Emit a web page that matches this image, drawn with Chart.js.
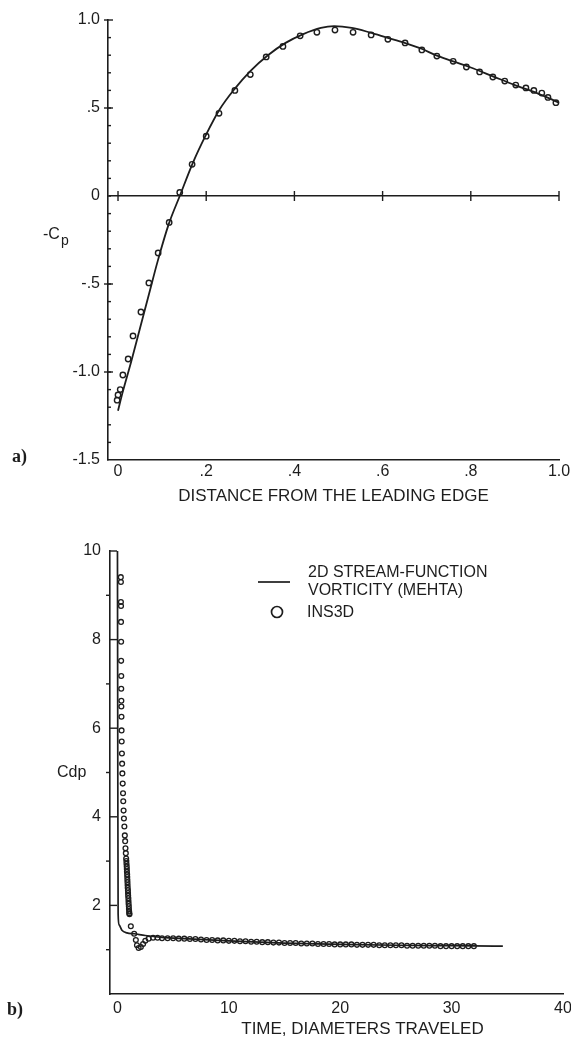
<!DOCTYPE html>
<html>
<head>
<meta charset="utf-8">
<script src="https://cdn.jsdelivr.net/npm/chart.js@4/dist/chart.umd.min.js"></script>
<style>
  html, body { margin: 0; padding: 0; background: #fff; }
  canvas { position: absolute; left: 0; }
  #cpChart { top: 0; }
  #cdpChart { top: 510px; }
</style>
</head>
<body>
<canvas id="cpChart" width="571" height="510"></canvas>
<canvas id="cdpChart" width="571" height="528"></canvas>
<script>
// a) pressure coefficient along the surface
const cpLineX = [0, 0.01, 0.03, 0.05, 0.07, 0.09, 0.115, 0.14, 0.17, 0.2, 0.23, 0.265, 0.3, 0.34, 0.38, 0.42, 0.46, 0.49, 0.53, 0.57, 0.61, 0.65, 0.69, 0.72, 0.76, 0.8, 0.85, 0.9, 0.95, 1.0]
const cpLineY = [-1.22, -1.12, -0.94, -0.75, -0.56, -0.37, -0.16, 0.0, 0.19, 0.35, 0.49, 0.61, 0.71, 0.8, 0.87, 0.92, 0.955, 0.965, 0.955, 0.93, 0.9, 0.87, 0.835, 0.8, 0.765, 0.73, 0.68, 0.63, 0.585, 0.53]
const cpPtsX = [-0.002, 0.0, 0.005, 0.011, 0.023, 0.034, 0.052, 0.07, 0.091, 0.116, 0.14, 0.168, 0.2, 0.229, 0.265, 0.3, 0.336, 0.374, 0.413, 0.451, 0.492, 0.533, 0.574, 0.612, 0.651, 0.689, 0.723, 0.76, 0.79, 0.82, 0.85, 0.877, 0.902, 0.925, 0.943, 0.961, 0.975, 0.993]
const cpPtsY = [-1.16, -1.13, -1.1, -1.017, -0.926, -0.795, -0.659, -0.494, -0.324, -0.15, 0.02, 0.18, 0.34, 0.47, 0.6, 0.69, 0.79, 0.85, 0.91, 0.93, 0.943, 0.93, 0.915, 0.89, 0.87, 0.83, 0.795, 0.765, 0.733, 0.705, 0.676, 0.653, 0.63, 0.614, 0.6, 0.585, 0.56, 0.53]
const cpXTicks = [0, 0.2, 0.4, 0.6, 0.8, 1.0]
const cpXLabels = ['0', '.2', '.4', '.6', '.8', '1.0']
const cpYTicks = [-1.5, -1.0, -0.5, 0, 0.5, 1.0]
const cpYLabels = ['-1.5', '-1.0', '-.5', '0', '.5', '1.0']

// b) pressure drag history
const cdpLineX = [0, 0.03, 0.06, 0.15, 0.4, 0.85, 1.5, 2.5, 4, 6, 10, 15, 20, 25, 30, 34.6]
const cdpLineY = [10, 5, 1.8, 1.56, 1.44, 1.38, 1.36, 1.32, 1.28, 1.25, 1.2, 1.15, 1.12, 1.1, 1.09, 1.08]
const cdpPtsX = [
  0.30, 0.31, 0.31, 0.32, 0.32, 0.33, 0.33, 0.34, 0.34, 0.35, 0.35, 0.36, 0.37, 0.38, 0.40, 0.42, 0.44, 0.47, 0.50, 0.52,
  0.55, 0.58, 0.62, 0.66, 0.69, 0.72, 0.75, 0.78, 0.80, 0.81, 0.83, 0.84, 0.85, 0.87, 0.88, 0.89, 0.90, 0.91, 0.92, 0.94,
  0.95, 0.96, 0.98, 0.99, 1.00, 1.02, 1.03, 1.05, 1.06, 1.08,
  1.2, 1.5, 1.65, 1.75, 1.9, 2.1, 2.3, 2.5, 2.8, 3.2, 3.6, 4.0,
  4.5, 5, 5.5, 6, 6.5, 7, 7.5, 8, 8.5, 9, 9.5, 10, 10.5, 11, 11.5, 12, 12.5, 13, 13.5, 14,
  14.5, 15, 15.5, 16, 16.5, 17, 17.5, 18, 18.5, 19, 19.5, 20, 20.5, 21, 21.5, 22, 22.5, 23, 23.5, 24,
  24.5, 25, 25.5, 26, 26.5, 27, 27.5, 28, 28.5, 29, 29.5, 30, 30.5, 31, 31.5, 32
]
const cdpPtsY = [
  9.41, 9.30, 8.85, 8.76, 8.40, 7.95, 7.52, 7.18, 6.89, 6.62, 6.49, 6.26, 5.95, 5.70, 5.43, 5.20, 4.98, 4.75, 4.53, 4.35,
  4.14, 3.96, 3.78, 3.58, 3.45, 3.29, 3.18, 3.06, 3.00, 2.94, 2.88, 2.82, 2.76, 2.70, 2.64, 2.58, 2.52, 2.46, 2.40, 2.34,
  2.28, 2.22, 2.16, 2.10, 2.04, 1.98, 1.92, 1.86, 1.82, 1.80,
  1.53, 1.36, 1.22, 1.10, 1.04, 1.06, 1.13, 1.20, 1.25, 1.27, 1.27, 1.26,
  1.26, 1.26, 1.25, 1.25, 1.24, 1.24, 1.23, 1.22, 1.22, 1.21, 1.21, 1.20, 1.20, 1.19, 1.19, 1.18, 1.18, 1.17, 1.17, 1.16,
  1.16, 1.15, 1.15, 1.15, 1.14, 1.14, 1.14, 1.13, 1.13, 1.13, 1.12, 1.12, 1.12, 1.12, 1.11, 1.11, 1.11, 1.11, 1.10, 1.10,
  1.10, 1.10, 1.10, 1.09, 1.09, 1.09, 1.09, 1.09, 1.09, 1.08, 1.08, 1.08, 1.08, 1.08, 1.08, 1.08
]
const cdpXTicks = [0, 10, 20, 30, 40]
const cdpXLabels = ['0', '10', '20', '30', '40']
const cdpYTicks = [2, 4, 6, 8, 10]
const cdpYLabels = ['2', '4', '6', '8', '10']
const legendLines = ['2D STREAM-FUNCTION', 'VORTICITY (MEHTA)']
const legendPoints = 'INS3D'

const ink = '#1d1d1d'
const sans = "'Liberation Sans', Arial, sans-serif"

function pairs(xs, ys) {
  return xs.map((v, i) => ({ x: v, y: ys[i] }))
}

function range(a, b, step) {
  const out = []
  for (let v = a; v <= b + 1e-9; v += step) out.push(+v.toFixed(4))
  return out
}

// pin the axis box sizes so the plot area lands where the original has it
function sizeAxis(w, h) {
  return s => {
    if (w != null) s.width = w
    if (h != null) s.height = h
    s.paddingLeft = 0
    s.paddingRight = 0
    s.paddingTop = 0
    s.paddingBottom = 0
  }
}

function fixedTicks(values) {
  return s => {
    s.ticks = values.map(v => ({ value: v }))
  }
}

// tick marks, loose labels and the hand drawn legend
const decor = {
  id: 'decor',
  afterDraw(chart, args, o) {
    const { ctx, chartArea: area, scales } = chart
    const x = scales.x
    const y = scales.y
    ctx.save()
    ctx.strokeStyle = ink
    ctx.fillStyle = ink
    ctx.lineWidth = 1.4
    const marks = o.marks || []
    marks.forEach(m => {
      m.values.forEach(v => {
        ctx.beginPath()
        if (m.axis === 'x') {
          const px = x.getPixelForValue(v)
          const py = m.at == null ? area.bottom : y.getPixelForValue(m.at)
          ctx.moveTo(px, py - m.a)
          ctx.lineTo(px, py + m.b)
        } else {
          const py = y.getPixelForValue(v)
          ctx.moveTo(area.left - m.a, py)
          ctx.lineTo(area.left + m.b, py)
        }
        ctx.stroke()
      })
    })
    const glyphs = o.glyphs || []
    glyphs.forEach(g => {
      ctx.beginPath()
      ctx.lineWidth = 1.7
      if (g.kind === 'line') {
        ctx.moveTo(g.x1, g.y)
        ctx.lineTo(g.x2, g.y)
      } else {
        ctx.arc(g.x, g.y, g.r, 0, Math.PI * 2)
      }
      ctx.stroke()
    })
    const texts = o.texts || []
    texts.forEach(t => {
      ctx.font = t.font
      ctx.textAlign = 'left'
      ctx.textBaseline = 'middle'
      ctx.fillText(t.text, t.x, t.y)
      if (t.sub) {
        const w = ctx.measureText(t.text).width
        ctx.font = t.subFont
        ctx.fillText(t.sub, t.x + w + 1, t.y + t.subDy)
      }
    })
    ctx.restore()
  }
}

const tickFont = { family: sans, size: 16 }
const titleFont = { family: sans, size: 17, lineHeight: 1 }

new Chart(document.getElementById('cpChart'), {
  type: 'scatter',
  data: {
    datasets: [
      {
        label: 'computed',
        data: pairs(cpLineX, cpLineY),
        showLine: true,
        pointRadius: 0,
        borderColor: ink,
        borderWidth: 1.8,
        cubicInterpolationMode: 'monotone',
        clip: false,
      },
      {
        label: 'points',
        data: pairs(cpPtsX, cpPtsY),
        pointRadius: 2.7,
        pointBorderWidth: 1.4,
        borderColor: ink,
        pointBorderColor: ink,
        backgroundColor: 'rgba(255,255,255,0)',
        pointBackgroundColor: 'rgba(255,255,255,0)',
        clip: false,
      },
    ],
  },
  options: {
    responsive: false,
    animation: false,
    events: [],
    layout: { padding: { top: 20, right: 12, left: 0, bottom: 0 } },
    plugins: {
      legend: { display: false },
      tooltip: { enabled: false },
      decor: {
        marks: [
          { axis: 'y', values: range(-1.4, 0.9, 0.1), a: 0, b: 3 },
          { axis: 'y', values: [-1.0, -0.5, 0.5, 1.0], a: 4, b: 5 },
          { axis: 'x', values: range(0, 1, 0.1), a: 3.5, b: 0 },
          { axis: 'x', values: cpXTicks, a: 5, b: 0 },
          { axis: 'x', values: cpXTicks, at: 0, a: 5, b: 5 },
        ],
        texts: [
          { text: '-C', x: 43, y: 235, font: '16px ' + sans, sub: 'p', subFont: '14px ' + sans, subDy: 6 },
          { text: 'a)', x: 12, y: 457, font: 'bold 18px "Liberation Serif", serif' },
        ],
      },
    },
    scales: {
      x: {
        type: 'linear',
        min: -0.0227,
        max: 1.0,
        afterBuildTicks: fixedTicks(cpXTicks),
        afterFit: sizeAxis(null, 50),
        grid: { display: false, drawTicks: false },
        border: { display: true, color: ink, width: 1.6 },
        ticks: { autoSkip: false, maxRotation: 0, padding: 2, color: ink, font: tickFont, callback: (v, i) => cpXLabels[i] },
        title: { display: true, text: 'DISTANCE FROM THE LEADING EDGE', color: ink, font: titleFont, padding: { top: 0, bottom: 5 } },
      },
      y: {
        type: 'linear',
        min: -1.5,
        max: 1.0,
        afterBuildTicks: fixedTicks(cpYTicks),
        afterFit: sizeAxis(108, null),
        grid: {
          drawTicks: false,
          lineWidth: 1.6,
          color: c => (c.tick && c.tick.value === 0 ? ink : 'rgba(0,0,0,0)'),
        },
        border: { display: true, color: ink, width: 1.6 },
        ticks: { autoSkip: false, padding: 8, color: ink, font: tickFont, callback: (v, i) => cpYLabels[i] },
      },
    },
  },
  plugins: [decor],
})

new Chart(document.getElementById('cdpChart'), {
  type: 'scatter',
  data: {
    datasets: [
      {
        label: legendLines.join(' '),
        data: pairs(cdpLineX, cdpLineY),
        showLine: true,
        pointRadius: 0,
        borderColor: ink,
        borderWidth: 1.7,
        cubicInterpolationMode: 'monotone',
        clip: false,
      },
      {
        label: legendPoints,
        data: pairs(cdpPtsX, cdpPtsY),
        pointRadius: 2.4,
        pointBorderWidth: 1.3,
        borderColor: ink,
        pointBorderColor: ink,
        backgroundColor: 'rgba(255,255,255,0)',
        pointBackgroundColor: 'rgba(255,255,255,0)',
        clip: false,
      },
    ],
  },
  options: {
    responsive: false,
    animation: false,
    events: [],
    layout: { padding: { top: 41, right: 8, left: 0, bottom: 0 } },
    plugins: {
      legend: { display: false },
      tooltip: { enabled: false },
      decor: {
        marks: [
          { axis: 'y', values: cdpYTicks, a: 1, b: 7 },
          { axis: 'y', values: [1, 3, 5, 7, 9], a: 4, b: 0 },
          { axis: 'x', values: range(0, 40, 2), a: 3, b: 0 },
          { axis: 'x', values: [10, 20, 30, 40], a: 6, b: 0 },
        ],
        glyphs: [
          { kind: 'line', x1: 258, x2: 290, y: 72 },
          { kind: 'circle', x: 277, y: 102, r: 5.5 },
        ],
        texts: [
          { text: legendLines[0], x: 308, y: 63, font: '16px ' + sans },
          { text: legendLines[1], x: 308, y: 81, font: '16px ' + sans },
          { text: legendPoints, x: 307, y: 103, font: '16px ' + sans },
          { text: 'Cdp', x: 57, y: 263, font: '16px ' + sans },
          { text: 'b)', x: 7, y: 500, font: 'bold 18px "Liberation Serif", serif' },
        ],
      },
    },
    scales: {
      x: {
        type: 'linear',
        min: -0.67,
        max: 40,
        afterBuildTicks: fixedTicks(cdpXTicks),
        afterFit: sizeAxis(null, 44),
        grid: { display: false, drawTicks: false },
        border: { display: true, color: ink, width: 1.6 },
        ticks: { autoSkip: false, maxRotation: 0, padding: 5, color: ink, font: tickFont, callback: (v, i) => cdpXLabels[i] },
        title: { display: true, text: '           TIME, DIAMETERS TRAVELED', color: ink, font: titleFont, padding: { top: 0, bottom: 0 } },
      },
      y: {
        type: 'linear',
        min: 0,
        max: 10,
        afterBuildTicks: fixedTicks(cdpYTicks),
        afterFit: sizeAxis(110, null),
        grid: { display: false, drawTicks: false },
        border: { display: true, color: ink, width: 1.6 },
        ticks: { autoSkip: false, padding: 9, color: ink, font: tickFont, callback: (v, i) => cdpYLabels[i] },
      },
    },
  },
  plugins: [decor],
})
</script>
</body>
</html>
